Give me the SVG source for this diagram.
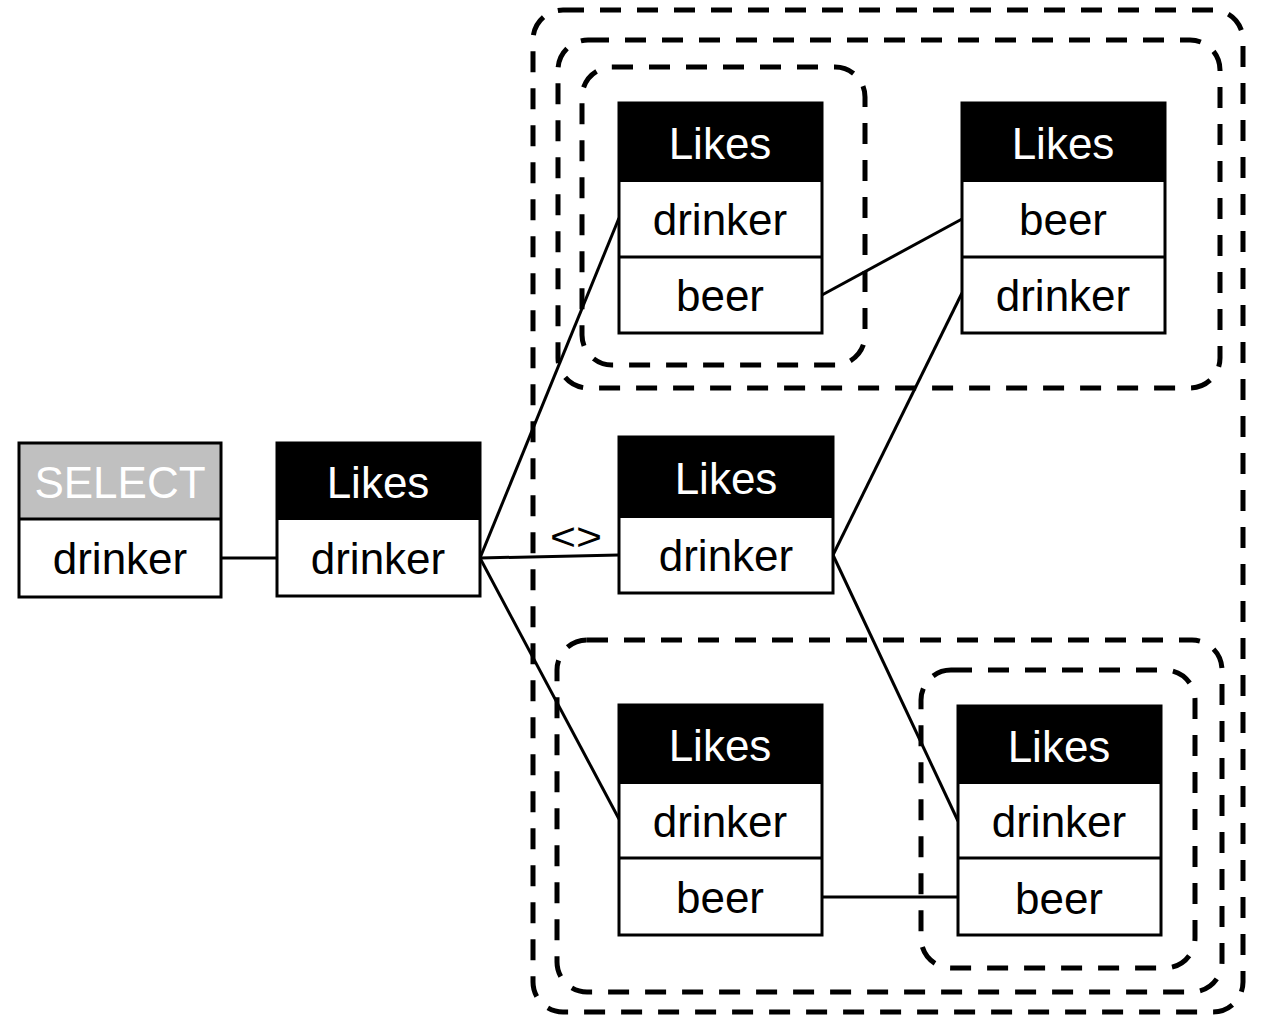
<svg xmlns="http://www.w3.org/2000/svg" width="1261" height="1019" viewBox="0 0 1261 1019">
<style>
.box{fill:none;stroke:#000;stroke-width:3}
.row{fill:#fff}
.hdr{fill:#000}
.hdrsel{fill:#c0c0c0}
.t{font-family:"Liberation Sans",Arial,sans-serif;font-size:44px;text-anchor:middle}
.th{fill:#fff}
.tr{fill:#000}
.grp{fill:none;stroke:#000;stroke-width:5;stroke-dasharray:21 16}
.conn line{stroke:#000;stroke-width:3}
</style>
<rect width="1261" height="1019" fill="#fff"/>
<g id="groups">
<rect class="grp" x="533" y="10" width="710" height="1002" rx="30"/>
<rect class="grp" x="558" y="40" width="662" height="348" rx="30"/>
<rect class="grp" x="582" y="67" width="283" height="298" rx="30"/>
<rect class="grp" x="557" y="640" width="665" height="352" rx="30"/>
<rect class="grp" x="921" y="670" width="274" height="298" rx="30"/>
</g>
<g id="connectors" class="conn">
<line x1="221" y1="558" x2="277" y2="558"/>
<line x1="480" y1="558" x2="619" y2="218"/>
<line x1="480" y1="558" x2="619" y2="555"/>
<line x1="480" y1="558" x2="619" y2="819"/>
<line x1="822" y1="295" x2="962" y2="219"/>
<line x1="833" y1="555" x2="962" y2="293"/>
<line x1="833" y1="555" x2="958" y2="821"/>
<line x1="822" y1="897" x2="958" y2="897"/>
<text x="550" y="550" font-family="Liberation Sans, Arial, sans-serif" font-size="38" textLength="52" lengthAdjust="spacingAndGlyphs">&lt;&gt;</text>
</g>
<g id="select">
<rect class="hdrsel" x="19" y="443" width="202" height="76"/>
<rect class="row" x="19" y="519" width="202" height="78"/>
<rect class="box" x="19" y="443" width="202" height="154"/>
<line x1="19" y1="519" x2="221" y2="519" stroke="#000" stroke-width="3"/>
<text class="t th" x="120" y="498">SELECT</text>
<text class="t tr" x="120" y="574">drinker</text>
</g>
<g id="likes-main">
<rect class="hdr" x="277" y="443" width="203" height="77"/>
<rect class="row" x="277" y="520" width="203" height="76"/>
<rect class="box" x="277" y="443" width="203" height="153"/>
<text class="t th" x="378" y="498">Likes</text>
<text class="t tr" x="378" y="574">drinker</text>
</g>
<g id="likes-tl">
<rect class="hdr" x="619" y="103" width="203" height="79"/>
<rect class="row" x="619" y="182" width="203" height="151"/>
<rect class="box" x="619" y="103" width="203" height="230"/>
<line x1="619" y1="257" x2="822" y2="257" stroke="#000" stroke-width="3"/>
<text class="t th" x="720" y="159">Likes</text>
<text class="t tr" x="720" y="235">drinker</text>
<text class="t tr" x="720" y="311">beer</text>
</g>
<g id="likes-tr">
<rect class="hdr" x="962" y="103" width="203" height="79"/>
<rect class="row" x="962" y="182" width="203" height="151"/>
<rect class="box" x="962" y="103" width="203" height="230"/>
<line x1="962" y1="257" x2="1165" y2="257" stroke="#000" stroke-width="3"/>
<text class="t th" x="1063" y="159">Likes</text>
<text class="t tr" x="1063" y="235">beer</text>
<text class="t tr" x="1063" y="311">drinker</text>
</g>
<g id="likes-mid">
<rect class="hdr" x="619" y="437" width="214" height="81"/>
<rect class="row" x="619" y="518" width="214" height="75"/>
<rect class="box" x="619" y="437" width="214" height="156"/>
<text class="t th" x="726" y="494">Likes</text>
<text class="t tr" x="726" y="571">drinker</text>
</g>
<g id="likes-bl">
<rect class="hdr" x="619" y="705" width="203" height="79"/>
<rect class="row" x="619" y="784" width="203" height="151"/>
<rect class="box" x="619" y="705" width="203" height="230"/>
<line x1="619" y1="858" x2="822" y2="858" stroke="#000" stroke-width="3"/>
<text class="t th" x="720" y="761">Likes</text>
<text class="t tr" x="720" y="837">drinker</text>
<text class="t tr" x="720" y="913">beer</text>
</g>
<g id="likes-br">
<rect class="hdr" x="958" y="706" width="203" height="78"/>
<rect class="row" x="958" y="784" width="203" height="151"/>
<rect class="box" x="958" y="706" width="203" height="229"/>
<line x1="958" y1="858" x2="1161" y2="858" stroke="#000" stroke-width="3"/>
<text class="t th" x="1059" y="762">Likes</text>
<text class="t tr" x="1059" y="837">drinker</text>
<text class="t tr" x="1059" y="914">beer</text>
</g>
</svg>
